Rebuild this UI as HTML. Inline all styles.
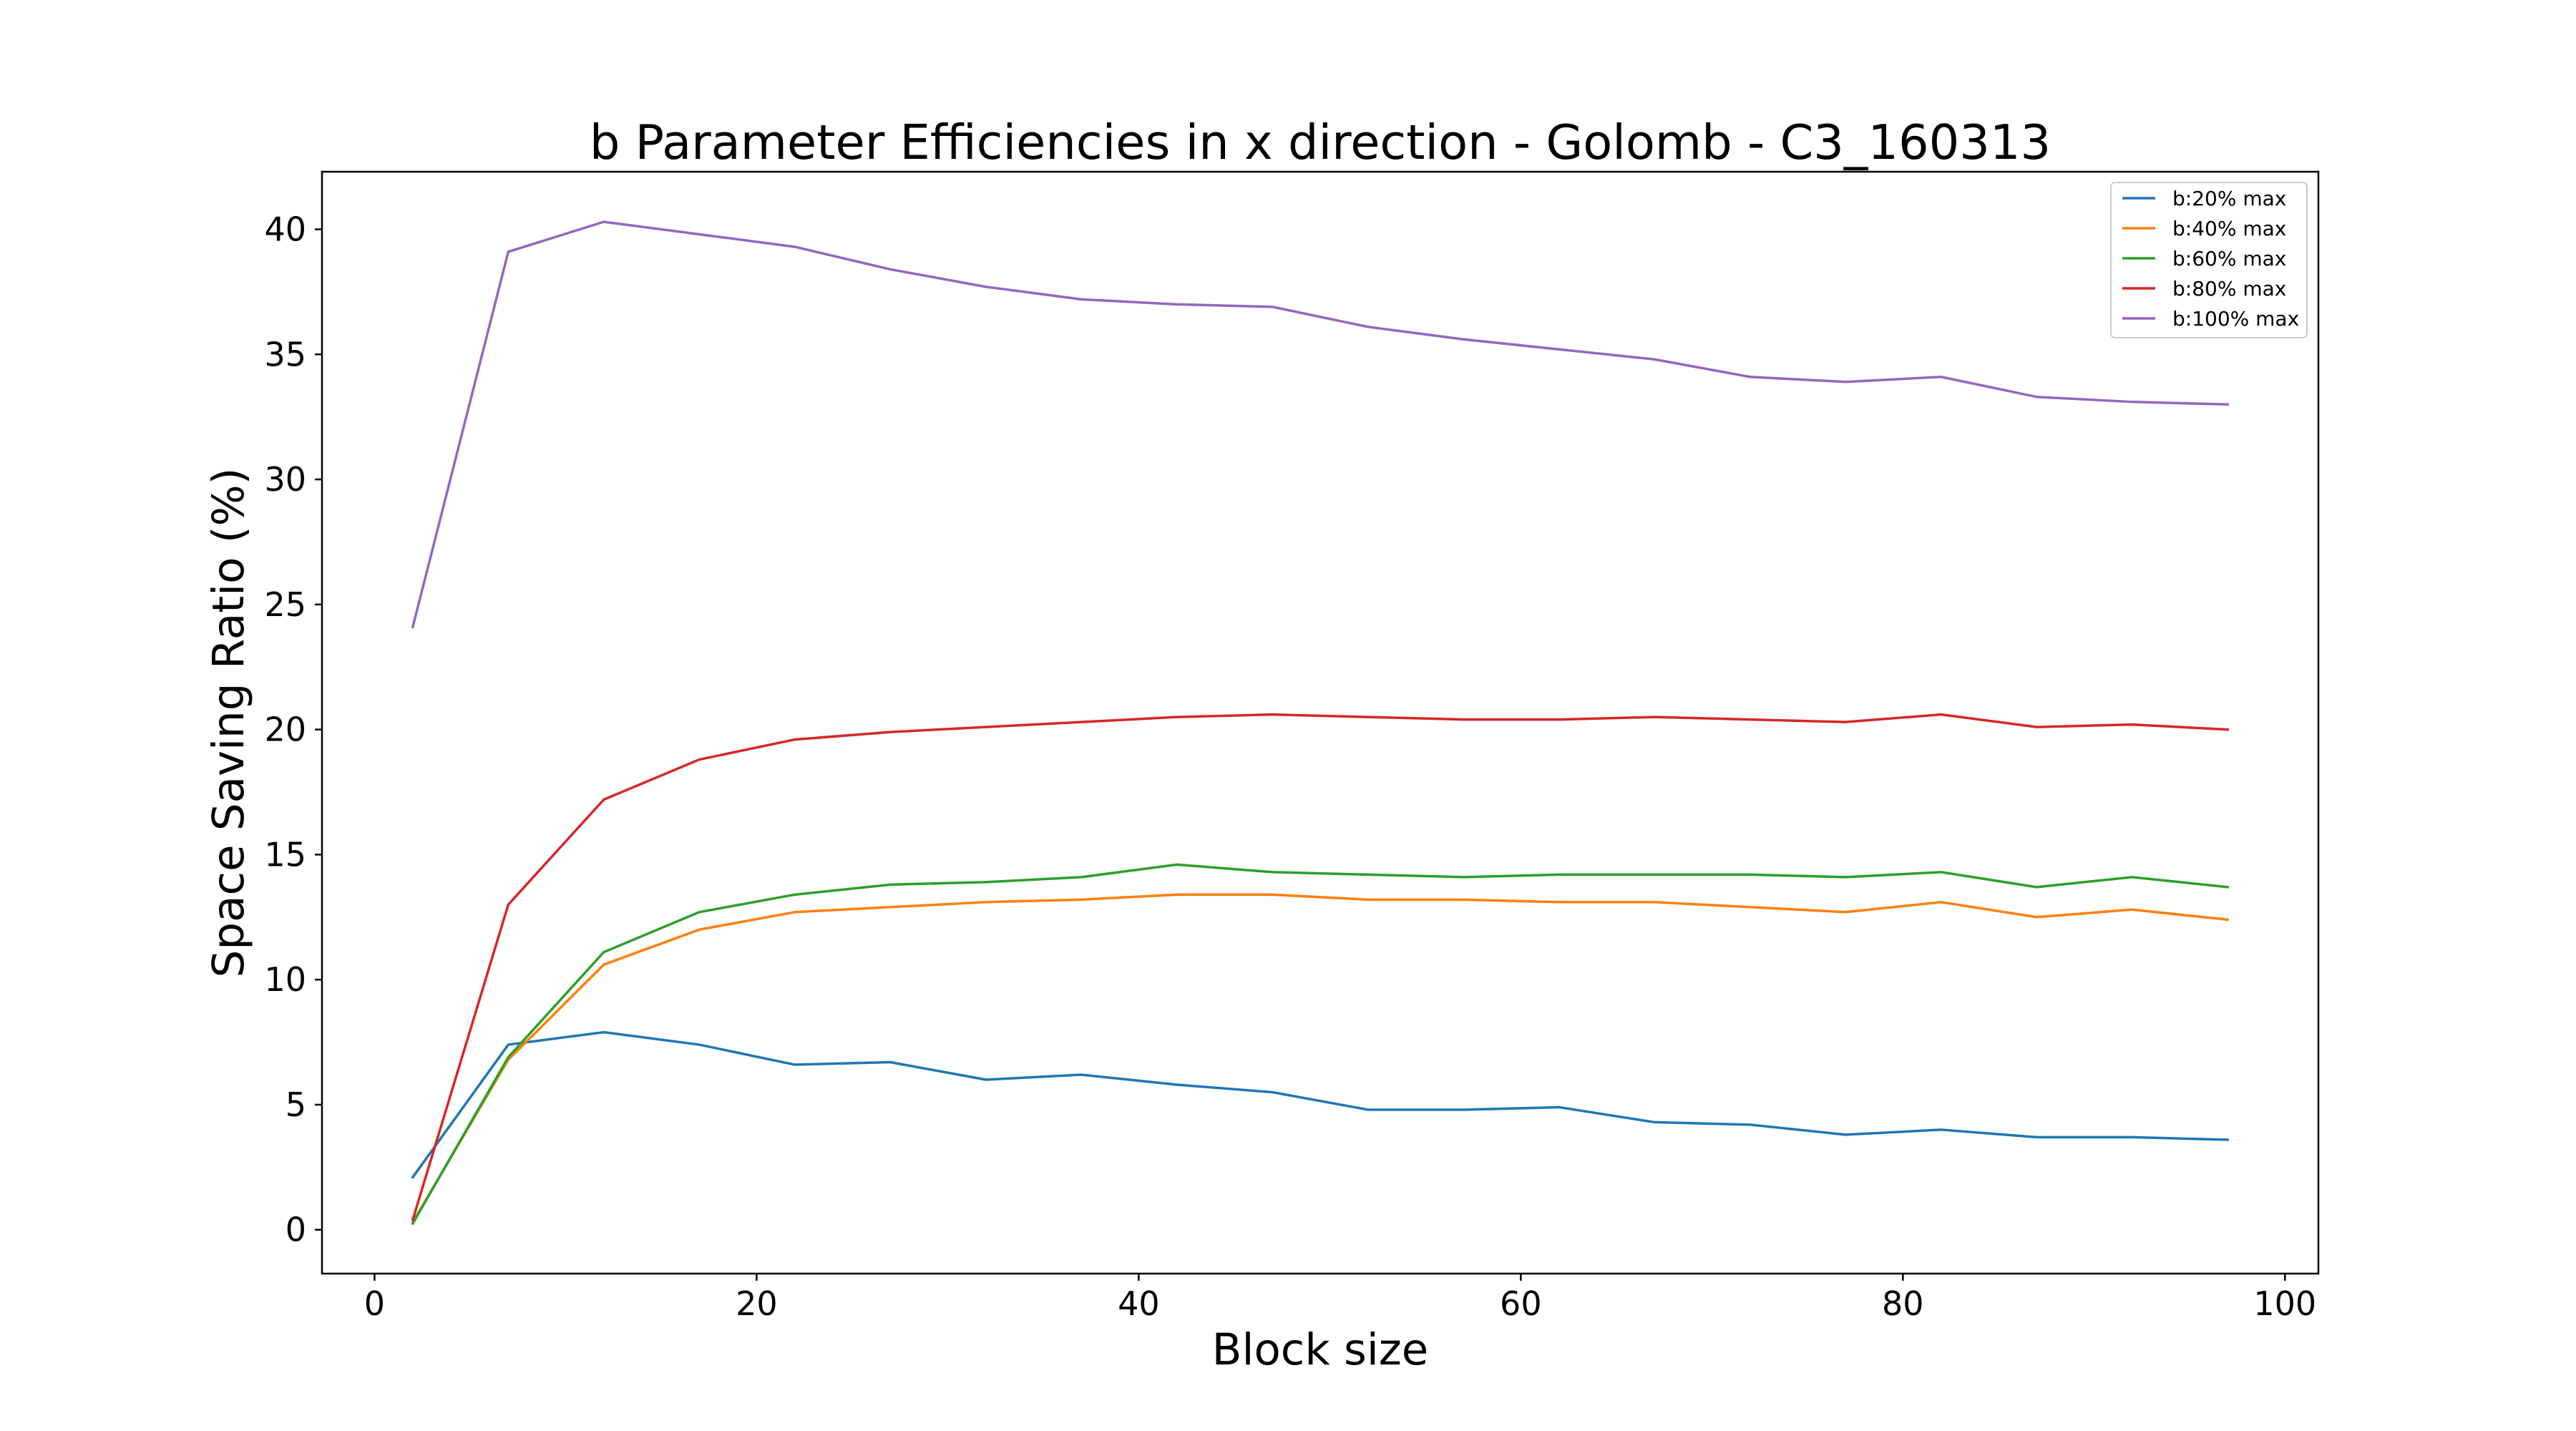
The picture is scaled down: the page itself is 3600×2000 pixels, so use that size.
<!DOCTYPE html>
<html><head><meta charset="utf-8"><style>
html,body{margin:0;padding:0;background:#fff;}
svg{display:block;font-family:"DejaVu Sans","Liberation Sans",sans-serif;}
</style></head><body>
<svg id="chart" width="3600" height="2000" xmlns="http://www.w3.org/2000/svg">
<rect width="3600" height="2000" fill="#fff"/>
<text x="1845" y="222" font-size="67" text-anchor="middle">b Parameter Efficiencies in x direction - Golomb - C3_160313</text>
<g id="plot"></g>
<text x="1845" y="1907" font-size="61" text-anchor="middle">Block size</text>
<text x="0" y="0" font-size="61" text-anchor="middle" transform="translate(340,1010) rotate(-90)">Space Saving Ratio (%)</text>
</svg>
<script>
const blockSizes=[2,7,12,17,22,27,32,37,42,47,52,57,62,67,72,77,82,87,92,97];
const b20=[2.1,7.4,7.9,7.4,6.6,6.7,6.0,6.2,5.8,5.5,4.8,4.8,4.9,4.3,4.2,3.8,4.0,3.7,3.7,3.6];
const b40=[0.3,6.8,10.6,12.0,12.7,12.9,13.1,13.2,13.4,13.4,13.2,13.2,13.1,13.1,12.9,12.7,13.1,12.5,12.8,12.4];
const b60=[0.25,6.9,11.1,12.7,13.4,13.8,13.9,14.1,14.6,14.3,14.2,14.1,14.2,14.2,14.2,14.1,14.3,13.7,14.1,13.7];
const b80=[0.4,13.0,17.2,18.8,19.6,19.9,20.1,20.3,20.5,20.6,20.5,20.4,20.4,20.5,20.4,20.3,20.6,20.1,20.2,20.0];
const b100=[24.1,39.1,40.3,39.8,39.3,38.4,37.7,37.2,37.0,36.9,36.1,35.6,35.2,34.8,34.1,33.9,34.1,33.3,33.1,33.0];
const seriesNames=["b:20% max","b:40% max","b:60% max","b:80% max","b:100% max"];
const xTicks=[0,20,40,60,80,100];
const yTicks=[0,5,10,15,20,25,30,35,40];

const series=[b20,b40,b60,b80,b100];
const colors=["#1f77b4","#ff7f0e","#2ca02c","#d62728","#9467bd"];
const L=450,R=3240,T=240,B=1780;
const xmin=Math.min(...blockSizes),xmax=Math.max(...blockSizes);
const xpad=(xmax-xmin)*0.05;
const x0=xmin-xpad,x1=xmax+xpad;
const all=series.flat();
const ymin0=Math.min(...all),ymax0=Math.max(...all);
const ypad=(ymax0-ymin0)*0.05;
const y0=ymin0-ypad,y1=ymax0+ypad;
const sx=v=>L+(v-x0)/(x1-x0)*(R-L);
const sy=v=>B-(v-y0)/(y1-y0)*(B-T);
const NS="http://www.w3.org/2000/svg";
const g=document.getElementById('plot');
function mk(tag,attrs,parent){const e=document.createElementNS(NS,tag);for(const k in attrs)e.setAttribute(k,attrs[k]);(parent||g).appendChild(e);return e;}

series.forEach((s,i)=>{
  const p=mk('polyline',{points:s.map((v,j)=>sx(blockSizes[j])+','+sy(v)).join(' '),fill:'none',stroke:colors[i],'stroke-width':3.5,'stroke-linejoin':'round','stroke-linecap':'square'});
  
  
});
const frame=mk('rect',{x:L,y:T,width:R-L,height:B-T,fill:'none',stroke:'#000','stroke-width':2.5});



xTicks.forEach(t=>{
  const x=sx(t);
  const l=mk('line',{x1:x,x2:x,y1:B,y2:B+10,stroke:'#000','stroke-width':2.5});
  
  
  const tx=mk('text',{x:x,y:B+58,'font-size':46,'text-anchor':'middle'});
  tx.textContent=t;
  
  
});
yTicks.forEach(t=>{
  const y=sy(t);
  const l=mk('line',{x1:L-10,x2:L,y1:y,y2:y,stroke:'#000','stroke-width':2.5});
  
  
  const tx=mk('text',{x:L-22,y:y+16,'font-size':46,'text-anchor':'end'});
  tx.textContent=t;
  
  
});

const lg=mk('g',{});


mk('rect',{x:2950,y:255,width:274,height:217,rx:6,fill:'#fff',stroke:'#ccc','stroke-width':2},lg);
seriesNames.forEach((n,i)=>{
  const y=277+i*42;
  const e=mk('g',{},lg);
  
  
  mk('line',{x1:2966,x2:3012,y1:y,y2:y,stroke:colors[i],'stroke-width':3.5},e);
  const t=mk('text',{x:3036,y:y+10,'font-size':28},e);
  t.textContent=n;
});
</script>
</body></html>
